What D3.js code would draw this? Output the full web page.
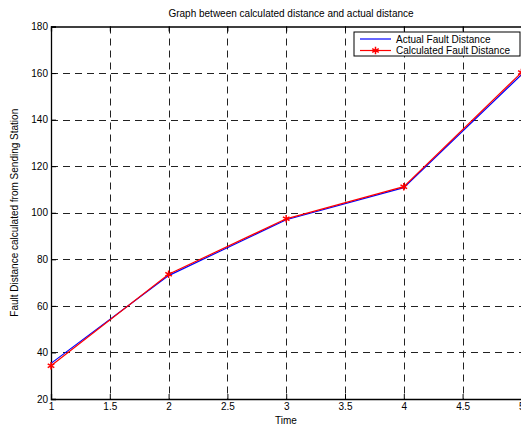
<!DOCTYPE html>
<html>
<head>
<meta charset="utf-8">
<script src="https://cdn.jsdelivr.net/npm/d3@7"></script>
<style>
  html, body { margin: 0; padding: 0; background: #fff; }
  svg { display: block; font-family: "Liberation Sans", Arial, sans-serif; }
</style>
</head>
<body>
<div id="chart"></div>
<script>
// Graph between calculated distance and actual distance

const times = [1, 2, 3, 4, 5];
const actualDistance = [35.3, 73.0, 97.0, 110.8, 159.3];
const calculatedDistance = [34.3, 73.6, 97.4, 111.2, 160.2];
const xTicks = [1, 1.5, 2, 2.5, 3, 3.5, 4, 4.5, 5];
const yTicks = [20, 40, 60, 80, 100, 120, 140, 160, 180];

function drawChart() {
    const width = 521, height = 425;
    const margin = { top: 26.5, right: -0.4, bottom: 26, left: 51 };

    const svg = d3.select("#chart").append("svg")
        .attr("width", width)
        .attr("height", height);

    const x = d3.scaleLinear().domain([1, 5]).range([margin.left, width - margin.right]);
    const y = d3.scaleLinear().domain([20, 180]).range([height - margin.bottom, margin.top]);

    // grid
    const grid = svg.append("g")
        .attr("stroke", "#222")
        .attr("stroke-width", 1)
        .attr("stroke-dasharray", "7,5");
    grid.selectAll(".gx")
        .data(xTicks.slice(1, -1))
        .enter().append("line")
        .attr("x1", d => Math.round(x(d)) + 0.5)
        .attr("x2", d => Math.round(x(d)) + 0.5)
        .attr("y1", y(180))
        .attr("y2", y(20));
    grid.selectAll(".gy")
        .data(yTicks.slice(1, -1))
        .enter().append("line")
        .attr("x1", x(1))
        .attr("x2", x(5))
        .attr("y1", d => Math.round(y(d)) + 0.5)
        .attr("y2", d => Math.round(y(d)) + 0.5);

    // axes (ticks inward)
    const xAxis = svg.append("g")
        .attr("transform", `translate(0,${y(20)})`)
        .call(d3.axisBottom(x).tickValues(xTicks).tickSize(-5).tickPadding(4).tickFormat(d3.format("")));
    const xTop = svg.append("g")
        .attr("transform", `translate(0,${y(180)})`)
        .call(d3.axisTop(x).tickValues(xTicks).tickSize(-5).tickFormat(""));
    const yAxis = svg.append("g")
        .attr("transform", `translate(${x(1)},0)`)
        .call(d3.axisLeft(y).tickValues(yTicks).tickSize(-5).tickPadding(3));

    [xAxis, xTop, yAxis].forEach(g => {
        g.select(".domain").attr("stroke", "#000").attr("stroke-width", 1.3);
        g.selectAll(".tick line").attr("stroke", "#000");
        g.selectAll("text")
            .attr("fill", "#000")
            .style("font-size", "10px");
    });

    // lines
    const line = d3.line()
        .x((d, i) => x(times[i]))
        .y(d => y(d));

    svg.append("path")
        .datum(actualDistance)
        .attr("fill", "none")
        .attr("stroke", "#0000ff")
        .attr("stroke-width", 1.2)
        .attr("d", line);

    svg.append("path")
        .datum(calculatedDistance)
        .attr("fill", "none")
        .attr("stroke", "#ff0000")
        .attr("stroke-width", 1.2)
        .attr("d", line);

    const star = d3.symbol().type(d3.symbolAsterisk).size(40);
    svg.selectAll(".mk")
        .data(calculatedDistance)
        .enter().append("path")
        .attr("d", star)
        .attr("transform", (d, i) => `translate(${x(times[i])},${y(d)})`)
        .attr("fill", "none")
        .attr("stroke", "#ff0000")
        .attr("stroke-width", 1.5);

    // title and labels
    svg.append("text")
        .attr("x", 291)
        .attr("y", 17)
        .attr("text-anchor", "middle")
        .style("font-size", "10px")
        .text("Graph between calculated distance and actual distance");

    svg.append("text")
        .attr("x", 286)
        .attr("y", 424)
        .attr("text-anchor", "middle")
        .style("font-size", "10px")
        .text("Time");

    svg.append("text")
        .attr("transform", `translate(18,${(y(20) + y(180)) / 2}) rotate(-90)`)
        .attr("text-anchor", "middle")
        .style("font-size", "10px")
        .text("Fault Distance calculated from Sending Station");

    // legend
    const legend = svg.append("g").attr("transform", "translate(354,32)");
    legend.append("rect")
        .attr("width", 166)
        .attr("height", 24)
        .attr("fill", "#fff")
        .attr("stroke", "#000")
        .attr("stroke-width", 1);
    const entries = [
        { name: "Actual Fault Distance", color: "#0000ff", marker: false },
        { name: "Calculated Fault Distance", color: "#ff0000", marker: true }
    ];
    entries.forEach((e, i) => {
        const yy = 7 + i * 11.5;
        legend.append("line")
            .attr("x1", 6).attr("x2", 37)
            .attr("y1", yy).attr("y2", yy)
            .attr("stroke", e.color)
            .attr("stroke-width", 1.2);
        if (e.marker) {
            legend.append("path")
                .attr("d", star)
                .attr("transform", `translate(21.5,${yy})`)
                .attr("fill", "none")
                .attr("stroke", e.color)
                .attr("stroke-width", 1.5);
        }
        legend.append("text")
            .attr("x", 42)
            .attr("y", yy + 3.6)
            .style("font-size", "10px")
            .text(e.name);
    });
}

drawChart();
</script>
</body>
</html>
